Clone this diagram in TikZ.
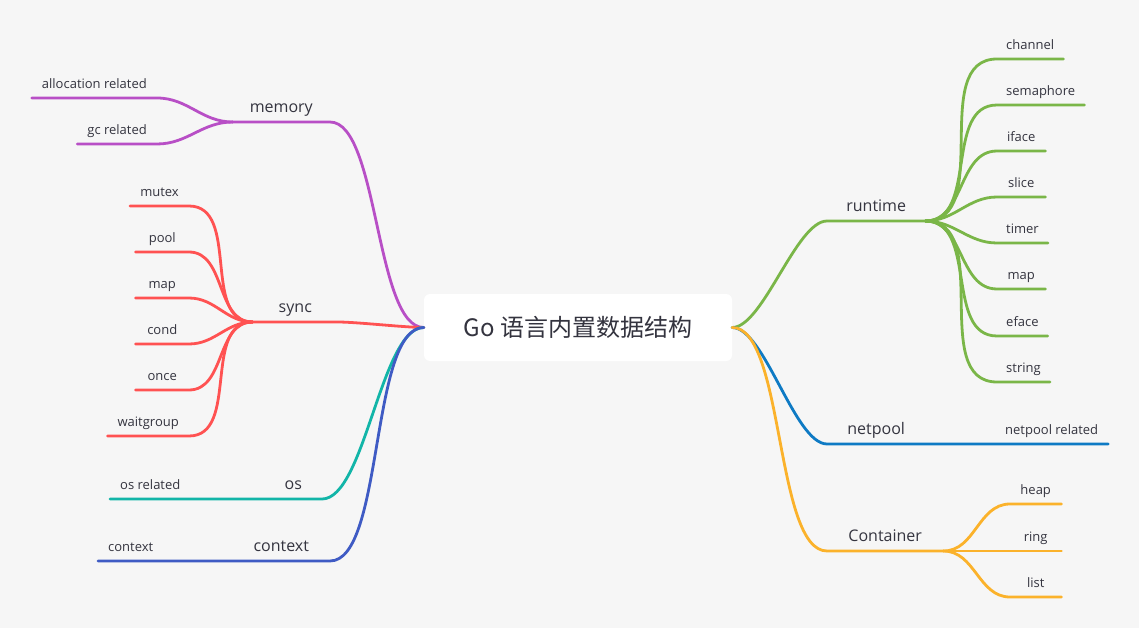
\documentclass[tikz,border=0pt]{standalone}
\usepackage{fontspec}
\setmainfont{Open Sans}
\newfontfamily\cjk{Noto Sans CJK SC}
\definecolor{bgc}{HTML}{F6F6F6}
\definecolor{txt}{HTML}{34343F}
\definecolor{cmem}{HTML}{B84FC6}
\definecolor{csync}{HTML}{FF5252}
\definecolor{cos}{HTML}{12B5A8}
\definecolor{cctx}{HTML}{3F5BC4}
\definecolor{crun}{HTML}{7AB648}
\definecolor{cnet}{HTML}{0E7AC4}
\definecolor{ccont}{HTML}{FBB22B}
\begin{document}
\begin{tikzpicture}[x=1pt,y=-1pt,line join=round,line cap=round,
    leaf/.style={inner xsep=10pt,inner ysep=9pt,minimum width=50pt,text height=9.5pt,text depth=0pt,text=txt,font=\fontsize{13}{15}\selectfont},
    topic/.style={inner xsep=0pt,inner ysep=9.5pt,text height=11.5pt,text depth=0pt,text=txt,font=\fontsize{16}{19}\selectfont},
    wire/.style={line width=2.8pt},
    toL/.style={out=180,in=0},
    toR/.style={out=0,in=180},
    rootL/.style={out=180,in=0,looseness=0.55},
    rootR/.style={out=0,in=180,looseness=0.55}]
    \useasboundingbox (0,0) rectangle (1139,628);
    \fill[bgc] (0,0) rectangle (1139,628);
    \node[fill=white,rounded corners=6pt,minimum width=308pt,minimum height=67pt,text=txt,font=\cjk\fontsize{24}{28}\selectfont] (root) at (578,327.5) {Go 语言内置数据结构};

    % left side
    \node[topic,minimum width=97pt,anchor=south east] (memory) at (330,122) {memory};
    \node[topic,minimum width=85pt,anchor=south east] (sync) at (338,322) {sync};
    \node[topic,minimum width=57pt,anchor=south east] (os) at (322,499) {os};
    \node[topic,minimum width=97pt,anchor=south east] (context) at (330,561) {context};

    \node[leaf,anchor=south east] (alloc) at (157,98) {allocation related};
    \node[leaf,anchor=south east] (gc) at (157,144) {gc related};
    \node[leaf,minimum width=53pt,anchor=south east] (mutex) at (189,206) {mutex};
    \node[leaf,minimum width=53pt,anchor=south east] (pool) at (189,252) {pool};
    \node[leaf,minimum width=53pt,anchor=south east] (smap) at (189,298) {map};
    \node[leaf,minimum width=53pt,anchor=south east] (cond) at (189,344) {cond};
    \node[leaf,minimum width=53pt,anchor=south east] (once) at (189,390) {once};
    \node[leaf,minimum width=53pt,anchor=south east] (wg) at (189,436) {waitgroup};
    \node[leaf,anchor=south west] (osrel) at (110,499) {os related};
    \node[leaf,anchor=south west] (ctx) at (98,561) {context};

    \draw[wire,cmem] (root.west) to[rootL] (memory.south east) -- (memory.south west);
    \draw[wire,cmem] (memory.south west) to[toL] (alloc.south east) -- (alloc.south west);
    \draw[wire,cmem] (memory.south west) to[toL] (gc.south east) -- (gc.south west);
    \draw[wire,csync] (root.west) to[rootL] (sync.south east) -- (sync.south west);
    \draw[wire,csync] (sync.south west) to[toL] (mutex.south east) -- (mutex.south west);
    \draw[wire,csync] (sync.south west) to[toL] (pool.south east) -- (pool.south west);
    \draw[wire,csync] (sync.south west) to[toL] (smap.south east) -- (smap.south west);
    \draw[wire,csync] (sync.south west) to[toL] (cond.south east) -- (cond.south west);
    \draw[wire,csync] (sync.south west) to[toL] (once.south east) -- (once.south west);
    \draw[wire,csync] (sync.south west) to[toL] (wg.south east) -- (wg.south west);
    \draw[wire,cos] (root.west) to[rootL] (os.south east) -- (os.south west) -- (osrel.south east) -- (osrel.south west);
    \draw[wire,cctx] (root.west) to[rootL] (context.south east) -- (context.south west) -- (ctx.south east) -- (ctx.south west);

    % right side
    \node[topic,minimum width=98pt,anchor=south west] (runtime) at (827,221) {runtime};
    \node[topic,minimum width=98pt,anchor=south west] (netpool) at (827,444) {netpool};
    \node[topic,minimum width=116pt,anchor=south west] (container) at (827,551) {Container};

    \node[leaf,inner xsep=9pt,minimum width=48pt,anchor=south west] (channel) at (997,59) {channel};
    \node[leaf,inner xsep=9pt,minimum width=48pt,anchor=south west] (sema) at (997,105) {semaphore};
    \node[leaf,inner xsep=9pt,minimum width=48pt,anchor=south west] (iface) at (997,151) {iface};
    \node[leaf,inner xsep=9pt,minimum width=48pt,anchor=south west] (slice) at (997,197) {slice};
    \node[leaf,inner xsep=9pt,minimum width=48pt,anchor=south west] (timer) at (997,243) {timer};
    \node[leaf,inner xsep=9pt,minimum width=48pt,anchor=south west] (rmap) at (997,289) {map};
    \node[leaf,inner xsep=9pt,minimum width=48pt,anchor=south west] (eface) at (997,336) {eface};
    \node[leaf,inner xsep=9pt,minimum width=48pt,anchor=south west] (string) at (997,382) {string};
    \node[leaf,anchor=south west] (netrel) at (995,444) {netpool related};
    \node[leaf,minimum width=51pt,anchor=south west] (heap) at (1010,504) {heap};
    \node[leaf,minimum width=51pt,anchor=south west] (ring) at (1010,551) {ring};
    \node[leaf,minimum width=51pt,anchor=south west] (list) at (1010,597) {list};

    \draw[wire,crun] (root.east) to[rootR] (runtime.south west) -- (runtime.south east);
    \draw[wire,crun] (runtime.south east) to[toR] (channel.south west) -- (channel.south east);
    \draw[wire,crun] (runtime.south east) to[toR] (sema.south west) -- (sema.south east);
    \draw[wire,crun] (runtime.south east) to[toR] (iface.south west) -- (iface.south east);
    \draw[wire,crun] (runtime.south east) to[toR] (slice.south west) -- (slice.south east);
    \draw[wire,crun] (runtime.south east) to[toR] (timer.south west) -- (timer.south east);
    \draw[wire,crun] (runtime.south east) to[toR] (rmap.south west) -- (rmap.south east);
    \draw[wire,crun] (runtime.south east) to[toR] (eface.south west) -- (eface.south east);
    \draw[wire,crun] (runtime.south east) to[toR] (string.south west) -- (string.south east);
    \draw[wire,cnet] (root.east) to[rootR] (netpool.south west) -- (netpool.south east) -- (netrel.south west) -- (netrel.south east);
    \draw[wire,ccont] (root.east) to[rootR] (container.south west) -- (container.south east);
    \draw[wire,ccont] (container.south east) to[toR] (heap.south west) -- (heap.south east);
    \draw[wire,ccont] (container.south east) to[toR] (ring.south west) -- (ring.south east);
    \draw[wire,ccont] (container.south east) to[toR] (list.south west) -- (list.south east);
\end{tikzpicture}
\end{document}
